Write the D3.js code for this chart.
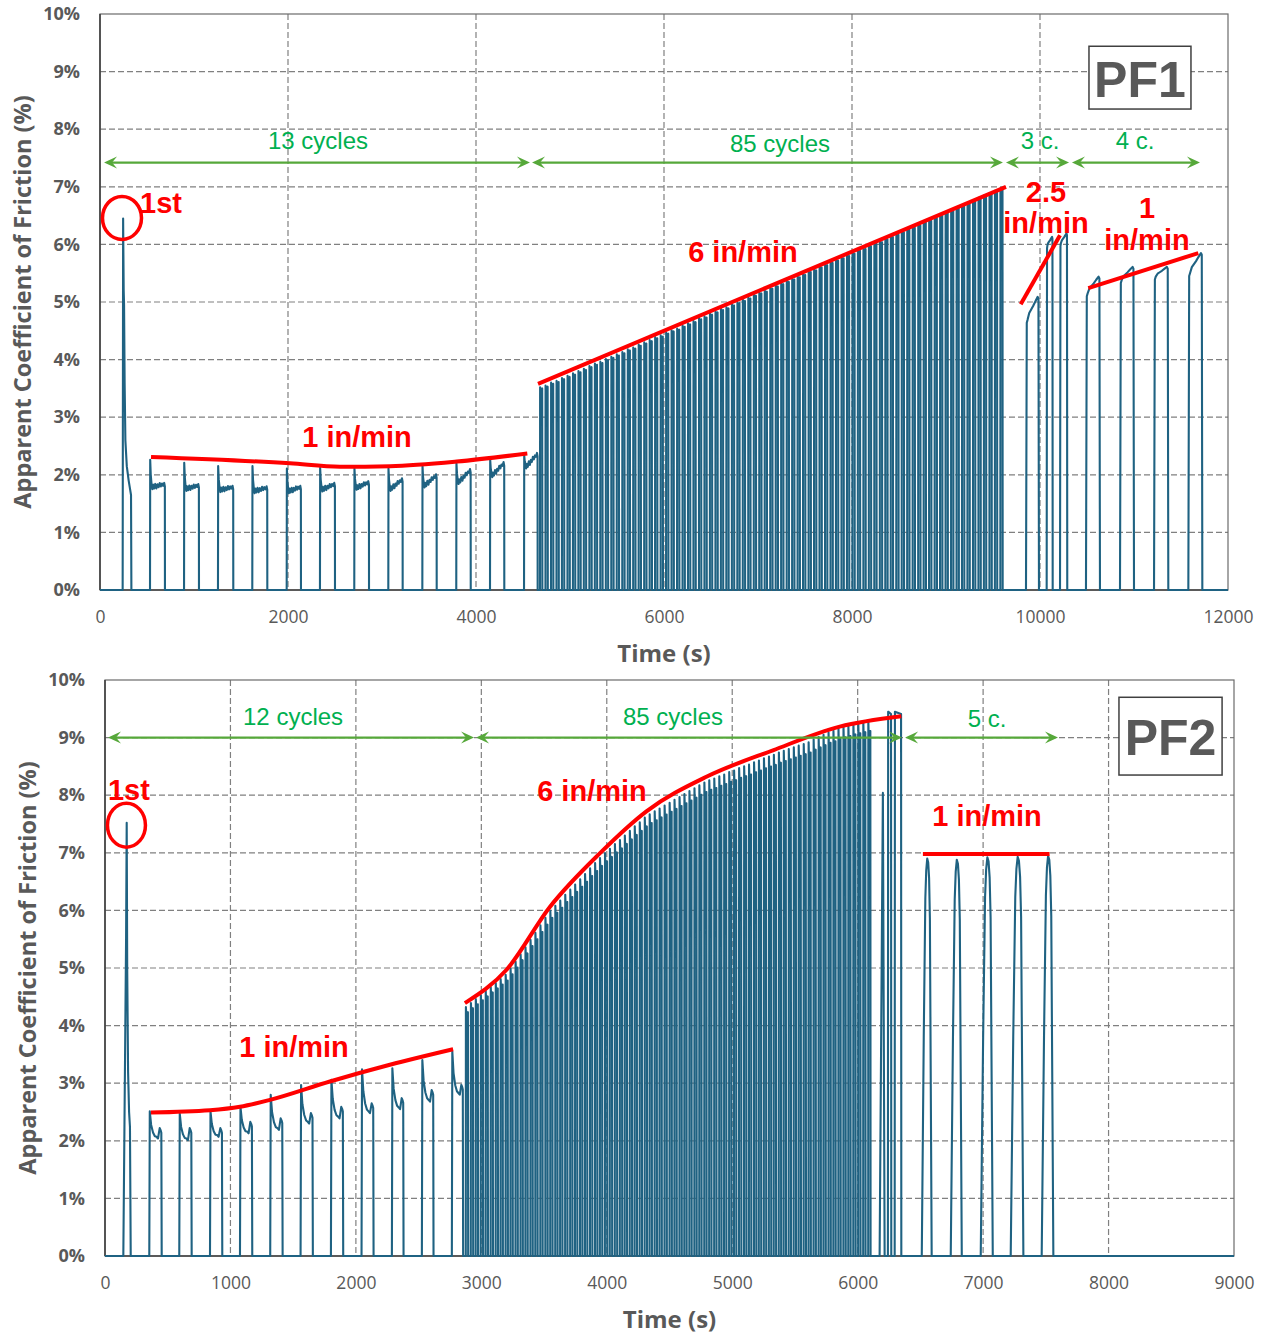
<!DOCTYPE html>
<html>
<head>
<meta charset="utf-8">
<script src="https://cdn.jsdelivr.net/npm/d3@7"></script>
<style>
  body { margin: 0; background: #fff; }
  svg { display: block; }
</style>
</head>
<body>
<svg id="chart" width="1268" height="1333"></svg>
<script>
// ---------- shared axis values ----------
const yTicks = [0, 1, 2, 3, 4, 5, 6, 7, 8, 9, 10];
const p1XTicks = [0, 2000, 4000, 6000, 8000, 10000, 12000];
const p2XTicks = [0, 1000, 2000, 3000, 4000, 5000, 6000, 7000, 8000, 9000];

// ---------- PF1 trace (time s, friction %) ----------
const p1FirstT = [241, 246, 252, 256, 262, 270, 285, 305, 330, 334];
const p1FirstV = [0, 6.45, 5.2, 4.95, 3.6, 2.6, 2.15, 1.9, 1.65, 0];

const p1SlowStart = [532, 894, 1255, 1620, 1986, 2340, 2705, 3067, 3429, 3790, 4149, 4511];
const p1SlowEnd   = [691, 1053, 1418, 1780, 2138, 2500, 2862, 3220, 3582, 3944, 4301, 4656];
const p1SlowPeak  = [2.26, 2.21, 2.15, 2.15, 2.11, 2.12, 2.11, 2.11, 2.15, 2.20, 2.26, 2.34];
const p1SlowPlatA = [1.79, 1.76, 1.74, 1.72, 1.72, 1.75, 1.78, 1.76, 1.82, 1.88, 2.00, 2.15];
const p1SlowPlatB = [1.80, 1.78, 1.75, 1.74, 1.75, 1.80, 1.83, 1.88, 1.95, 2.04, 2.16, 2.32];

const p1FastStart = [4681,4739,4798,4856,4914,4973,5031,5089,5147,5206,
  5264,5322,5381,5439,5497,5556,5614,5672,5730,5789,
  5847,5905,5964,6022,6080,6139,6197,6255,6313,6372,
  6430,6488,6547,6605,6663,6722,6780,6838,6896,6955,
  7013,7071,7130,7188,7246,7305,7363,7421,7479,7538,
  7596,7654,7713,7771,7829,7888,7946,8004,8062,8121,
  8179,8237,8296,8354,8412,8471,8529,8587,8645,8704,
  8762,8820,8879,8937,8995,9054,9112,9170,9228,9287,
  9345,9403,9462,9520,9578];
const p1FastPeak = [3.52,3.55,3.60,3.63,3.68,3.72,3.76,3.80,3.84,3.89,
  3.93,3.96,4.01,4.05,4.09,4.13,4.18,4.21,4.26,4.30,
  4.34,4.39,4.42,4.47,4.51,4.54,4.59,4.63,4.67,4.72,
  4.75,4.80,4.84,4.88,4.91,4.96,5.00,5.04,5.08,5.13,
  5.17,5.20,5.25,5.29,5.33,5.37,5.41,5.45,5.49,5.54,
  5.57,5.62,5.66,5.70,5.74,5.78,5.82,5.86,5.91,5.94,
  5.99,6.03,6.06,6.11,6.15,6.19,6.23,6.28,6.31,6.35,
  6.40,6.43,6.48,6.52,6.56,6.60,6.65,6.68,6.72,6.77,
  6.81,6.85,6.89,6.93,6.97];

const p1MidStart = [9851, 10071, 10213];
const p1MidEnd   = [9989, 10135, 10290];
const p1MidLo    = [4.69, 5.98, 6.02];
const p1MidHi    = [5.09, 6.13, 6.19];

const p1EndStart = [10489, 10851, 11213, 11578];
const p1EndEnd   = [10638, 11000, 11365, 11727];
const p1EndLo    = [5.15, 5.38, 5.44, 5.50];
const p1EndHi    = [5.44, 5.61, 5.61, 5.85];

// ---------- PF1 annotations ----------
const p1RedSlowT = [543, 2021, 2553, 3085, 3795, 4546];
const p1RedSlowV = [2.31, 2.20, 2.14, 2.15, 2.23, 2.37];
const p1RedFastT = [4660, 9638];
const p1RedFastV = [3.58, 7.0];
const p1RedMidT  = [9795, 10213];
const p1RedMidV  = [4.96, 6.16];
const p1RedEndT  = [10514, 11684];
const p1RedEndV  = [5.24, 5.85];
const p1ArrowFrom = [43, 4596, 9638, 10340];
const p1ArrowTo   = [4574, 9606, 10309, 11702];
const p1ArrowLevel = 7.42;
const p1CycleLabels = ["13 cycles", "85 cycles", "3 c.", "4 c."];
const p1CycleLabelT = [2319, 7234, 10000, 11011];
const p1CycleLabelV = [7.81, 7.76, 7.81, 7.81];
const p1RateLabels = ["1st", "1 in/min", "6 in/min", "2.5", "in/min", "1", "in/min"];
const p1RateLabelT = [649, 2734, 6840, 10064, 10064, 11138, 11138];
const p1RateLabelV = [6.72, 2.66, 5.87, 6.91, 6.37, 6.63, 6.08];
const p1CircleT = 234, p1CircleV = 6.46;

// ---------- PF2 trace ----------
const p2FirstT = [146, 168, 173, 177, 184, 192, 199, 205];
const p2FirstV = [0, 5.5, 7.52, 5.0, 3.2, 2.5, 2.24, 0];

const p2SlowStart = [353, 592, 837, 1076, 1317, 1559, 1801, 2045, 2287, 2526, 2765];
const p2SlowEnd   = [452, 691, 935, 1174, 1416, 1657, 1899, 2141, 2380, 2619, 2855];
const p2SlowPeak  = [2.51, 2.47, 2.51, 2.59, 2.80, 2.97, 3.06, 3.24, 3.26, 3.40, 3.55];
const p2SlowDip   = [2.04, 2.01, 2.07, 2.13, 2.19, 2.30, 2.39, 2.48, 2.55, 2.68, 2.80];
const p2SlowBump  = [2.22, 2.22, 2.22, 2.33, 2.39, 2.48, 2.59, 2.65, 2.74, 2.88, 2.97];

const p2FastStart = [2876,2916,2955,2995,3034,3074,3114,3153,3193,3232,
  3272,3312,3351,3391,3430,3470,3510,3549,3589,3628,
  3668,3708,3747,3787,3826,3866,3906,3945,3985,4024,
  4064,4104,4143,4183,4222,4262,4302,4341,4381,4420,
  4460,4500,4539,4579,4618,4658,4698,4737,4777,4816,
  4856,4896,4935,4975,5014,5054,5094,5133,5173,5212,
  5252,5292,5331,5371,5410,5450,5490,5529,5569,5608,
  5648,5688,5727,5767,5806,5846,5886,5925,5965,6004,
  6044,6084];
const p2FastPeak = [4.32,4.39,4.46,4.53,4.60,4.67,4.74,4.81,4.88,4.99,
  5.11,5.24,5.36,5.49,5.61,5.74,5.87,5.99,6.08,6.17,
  6.27,6.36,6.45,6.54,6.63,6.73,6.82,6.91,6.99,7.07,
  7.15,7.22,7.30,7.38,7.46,7.53,7.61,7.67,7.72,7.77,
  7.82,7.87,7.92,7.97,8.02,8.07,8.12,8.17,8.22,8.26,
  8.29,8.33,8.36,8.40,8.43,8.47,8.50,8.53,8.57,8.60,
  8.64,8.67,8.70,8.74,8.77,8.80,8.83,8.86,8.89,8.92,
  8.97,9.01,9.05,9.09,9.12,9.16,9.19,9.21,9.24,9.26,
  9.28,9.30];
// last three of the 85 fast cycles (irregular)
const p2TailStart = [6175, 6241, 6295];
const p2TailEnd   = [6215, 6268, 6348];
const p2TailPeak  = [8.04, 9.45, 9.45];

const p2EndStart = [6511, 6742, 6981, 7220, 7467];
const p2EndEnd   = [6590, 6830, 7077, 7321, 7560];
const p2EndPeak  = [6.90, 6.88, 6.92, 6.93, 6.95];

// ---------- PF2 annotations ----------
const p2RedSlowT = [366, 837, 1076, 1315, 1793, 2271, 2775];
const p2RedSlowV = [2.49, 2.53, 2.59, 2.71, 3.03, 3.32, 3.59];
const p2RedFastT = [2869, 3201, 3546, 3944, 4316, 4794, 5325, 5857, 6348];
const p2RedFastV = [4.39, 4.97, 6.06, 6.99, 7.72, 8.32, 8.78, 9.19, 9.37];
const p2RedEndT  = [6520, 7530];
const p2RedEndV  = [6.98, 6.98];
const p2ArrowFrom = [24, 2958, 6378];
const p2ArrowTo   = [2942, 6354, 7597];
const p2ArrowLevel = 9.0;
const p2CycleLabels = ["12 cycles", "85 cycles", "5 c."];
const p2CycleLabelT = [1499, 4528, 7031];
const p2CycleLabelV = [9.36, 9.36, 9.34];
const p2RateLabels = ["1st", "1 in/min", "6 in/min", "1 in/min"];
const p2RateLabelT = [191, 1507, 3882, 7031];
const p2RateLabelV = [8.09, 3.63, 8.07, 7.64];
const p2CircleT = 171, p2CircleV = 7.48;

// ---------- cycle shapes ----------
const TEAL = "#1f6282";
const RED = "#ff0000";
const GREEN_LINE = "#56a83a";
const GREEN_TEXT = "#00b050";
const GREY = "#595959";

// small fixed wiggle on the 1 in/min plateaus (PF1)
const wiggle = [0.04, -0.03, 0.05, -0.03, 0.04, -0.01, 0.06, 0.0, 0.05, 0.01, 0.06];

function p1SlowCycle(ts, te, pk, a, b) {
  const d = te - ts, pts = [[ts, 0], [ts + 2, pk], [ts + 0.05 * d, a + 0.45 * (pk - a)],
    [ts + 0.1 * d, a + 0.12 * (pk - a)], [ts + 0.16 * d, a - 0.04]];
  wiggle.forEach((w, i) => {
    const f = 0.2 + i * 0.075;
    pts.push([ts + f * d, a + (b - a) * (f - 0.2) / 0.75 + w]);
  });
  pts.push([te - 1, b], [te, 0]);
  return pts;
}
function p1FastCycle(t0, pk) {
  return [[t0, 0], [t0 + 1, pk], [t0 + 6, pk - 0.08], [t0 + 14, pk - 0.05], [t0 + 23, pk - 0.02], [t0 + 25, 0]];
}
function risingCycle(ts, te, lo, hi) {
  const d = te - ts, r = hi - lo;
  return [[ts, 0], [ts + 0.06 * d, lo - 0.05], [ts + 0.12 * d, lo], [ts + 0.25 * d, lo + 0.3 * r],
    [ts + 0.4 * d, lo + 0.45 * r], [ts + 0.55 * d, lo + 0.6 * r], [ts + 0.72 * d, lo + 0.8 * r],
    [ts + 0.9 * d, hi], [ts + 0.96 * d, hi - 0.03], [te, 0]];
}
function p2SlowCycle(ts, te, pk, dip, bump) {
  const d = te - ts, r = pk - dip;
  return [[ts, 0], [ts + 0.04 * d, pk], [ts + 0.15 * d, dip + 0.5 * r], [ts + 0.3 * d, dip + 0.22 * r],
    [ts + 0.45 * d, dip + 0.08 * r], [ts + 0.58 * d, dip + 0.03], [ts + 0.7 * d, dip],
    [ts + 0.84 * d, bump], [ts + 0.92 * d, bump - 0.04], [ts + 0.97 * d, bump - 0.08], [te, 0]];
}
function p2FastCycle(t0, pk) {
  return [[t0, 0], [t0 + 1, pk], [t0 + 4, pk * 0.97], [t0 + 12, pk * 0.975], [t0 + 17, pk * 0.98], [t0 + 19, 0]];
}
function tailCycle(ts, te, pk, i) {
  if (i === 0) return [[ts, 0], [ts + 0.65 * (te - ts), pk], [te, 0]];
  return [[ts, 0], [ts + 2, pk], [te - 2, pk - 0.04], [te, 0]];
}
function domeCycle(ts, te, pk) {
  const d = te - ts;
  return [[ts, 0], [ts + 0.2 * d, 0.55 * pk], [ts + 0.36 * d, 0.9 * pk], [ts + 0.45 * d, 0.97 * pk],
    [ts + 0.55 * d, pk], [ts + 0.65 * d, 0.99 * pk], [ts + 0.74 * d, 0.95 * pk], [ts + 0.82 * d, 0.85 * pk], [te, 0]];
}

// ---------- assemble the two traces ----------
let p1Trace = [[0, 0]];
p1FirstT.forEach((t, i) => p1Trace.push([t, p1FirstV[i]]));
p1SlowStart.forEach((t, i) => p1Trace.push(...p1SlowCycle(t, p1SlowEnd[i], p1SlowPeak[i], p1SlowPlatA[i], p1SlowPlatB[i])));
p1FastStart.forEach((t, i) => p1Trace.push(...p1FastCycle(t, p1FastPeak[i])));
p1MidStart.forEach((t, i) => p1Trace.push(...risingCycle(t, p1MidEnd[i], p1MidLo[i], p1MidHi[i])));
p1EndStart.forEach((t, i) => p1Trace.push(...risingCycle(t, p1EndEnd[i], p1EndLo[i], p1EndHi[i])));
p1Trace.push([12000, 0]);

let p2Trace = [[0, 0]];
p2FirstT.forEach((t, i) => p2Trace.push([t, p2FirstV[i]]));
p2SlowStart.forEach((t, i) => p2Trace.push(...p2SlowCycle(t, p2SlowEnd[i], p2SlowPeak[i], p2SlowDip[i], p2SlowBump[i])));
p2FastStart.forEach((t, i) => p2Trace.push(...p2FastCycle(t, p2FastPeak[i])));
p2TailStart.forEach((t, i) => p2Trace.push(...tailCycle(t, p2TailEnd[i], p2TailPeak[i], i)));
p2EndStart.forEach((t, i) => p2Trace.push(...domeCycle(t, p2EndEnd[i], p2EndPeak[i])));
p2Trace.push([9000, 0]);

const zip = (a, b) => a.map((t, i) => [t, b[i]]);

const panels = [
  {
    left: 100, right: 1228, top: 14, bottom: 590, xMax: 12000, xTicks: p1XTicks,
    trace: p1Trace, tag: "PF1", tagT: [10521, 11606], tagV: [9.44, 8.35],
    yTitleX: 22,
    red: [
      { pts: zip(p1RedSlowT, p1RedSlowV), curve: d3.curveMonotoneX },
      { pts: zip(p1RedFastT, p1RedFastV) },
      { pts: zip(p1RedMidT, p1RedMidV) },
      { pts: zip(p1RedEndT, p1RedEndV) }
    ],
    arrowFrom: p1ArrowFrom, arrowTo: p1ArrowTo, arrowLevel: p1ArrowLevel,
    cycleLabels: p1CycleLabels, cycleT: p1CycleLabelT, cycleV: p1CycleLabelV,
    rateLabels: p1RateLabels, rateT: p1RateLabelT, rateV: p1RateLabelV,
    circle: [p1CircleT, p1CircleV], circleR: [19.5, 21.5]
  },
  {
    left: 105, right: 1234, top: 680, bottom: 1256, xMax: 9000, xTicks: p2XTicks,
    trace: p2Trace, tag: "PF2", tagT: [8083, 8905], tagV: [9.70, 8.35],
    yTitleX: 27,
    red: [
      { pts: zip(p2RedSlowT, p2RedSlowV), curve: d3.curveMonotoneX },
      { pts: zip(p2RedFastT, p2RedFastV), curve: d3.curveMonotoneX },
      { pts: zip(p2RedEndT, p2RedEndV) }
    ],
    arrowFrom: p2ArrowFrom, arrowTo: p2ArrowTo, arrowLevel: p2ArrowLevel,
    cycleLabels: p2CycleLabels, cycleT: p2CycleLabelT, cycleV: p2CycleLabelV,
    rateLabels: p2RateLabels, rateT: p2RateLabelT, rateV: p2RateLabelV,
    circle: [p2CircleT, p2CircleV], circleR: [19, 22]
  }
];

const svg = d3.select("#chart");

function drawPanel(cfg) {
  const g = svg.append("g");
  const x = d3.scaleLinear().domain([0, cfg.xMax]).range([cfg.left, cfg.right]);
  const y = d3.scaleLinear().domain([0, 10]).range([cfg.bottom, cfg.top]);

  // dashed grid
  g.append("g").selectAll("line").data(yTicks.filter(d => d > 0 && d < 10)).join("line")
    .attr("x1", cfg.left).attr("x2", cfg.right)
    .attr("y1", d => y(d)).attr("y2", d => y(d))
    .attr("stroke", "#808080").attr("stroke-width", 1.2).attr("stroke-dasharray", "6,3");
  g.append("g").selectAll("line").data(cfg.xTicks.filter(d => d > 0 && d < cfg.xMax)).join("line")
    .attr("x1", d => x(d)).attr("x2", d => x(d))
    .attr("y1", cfg.top).attr("y2", cfg.bottom)
    .attr("stroke", "#808080").attr("stroke-width", 1.2).attr("stroke-dasharray", "6,3");

  // frame
  g.append("rect")
    .attr("x", cfg.left).attr("y", cfg.top)
    .attr("width", cfg.right - cfg.left).attr("height", cfg.bottom - cfg.top)
    .attr("fill", "none").attr("stroke", "#6b6b6b").attr("stroke-width", 1.2);
  g.append("line").attr("x1", cfg.left).attr("x2", cfg.left).attr("y1", cfg.top).attr("y2", cfg.bottom)
    .attr("stroke", "#404040").attr("stroke-width", 1.6);
  g.append("line").attr("x1", cfg.left).attr("x2", cfg.right).attr("y1", cfg.bottom).attr("y2", cfg.bottom)
    .attr("stroke", "#404040").attr("stroke-width", 1.6);

  // axes
  const yAxis = g.append("g").attr("transform", `translate(${cfg.left},0)`)
    .call(d3.axisLeft(y).tickValues(yTicks).tickFormat(d => d + "%").tickSize(0).tickPadding(20));
  yAxis.select(".domain").remove();
  yAxis.selectAll("text").attr("font-family", "'Open Sans', sans-serif").attr("font-weight", "bold")
    .attr("font-size", 18).attr("fill", GREY);

  const xAxis = g.append("g").attr("transform", `translate(0,${cfg.bottom})`)
    .call(d3.axisBottom(x).tickValues(cfg.xTicks).tickFormat(d3.format("d")).tickSize(0).tickPadding(21));
  xAxis.select(".domain").remove();
  xAxis.selectAll("text").attr("font-family", "'Open Sans', sans-serif")
    .attr("font-size", 17.5).attr("fill", GREY);

  g.append("text")
    .attr("x", (cfg.left + cfg.right) / 2).attr("y", cfg.bottom + 62)
    .attr("text-anchor", "middle").attr("dominant-baseline", "central")
    .attr("font-family", "'Open Sans', sans-serif").attr("font-weight", "bold")
    .attr("font-size", 24).attr("fill", GREY).text("Time (s)");
  g.append("text")
    .attr("transform", `translate(${cfg.yTitleX},${(cfg.top + cfg.bottom) / 2}) rotate(-90)`)
    .attr("text-anchor", "middle").attr("dominant-baseline", "central")
    .attr("font-family", "'Open Sans', sans-serif").attr("font-weight", "bold")
    .attr("font-size", 23.5).attr("fill", GREY).text("Apparent Coefficient of Friction (%)");

  // measured trace
  const line = d3.line().x(d => x(d[0])).y(d => y(d[1]));
  g.append("path").datum(cfg.trace).attr("d", line)
    .attr("fill", "none").attr("stroke", TEAL).attr("stroke-width", 2.1)
    .attr("stroke-linejoin", "round");

  // red trend lines
  cfg.red.forEach(r => {
    g.append("path").datum(r.pts)
      .attr("d", d3.line().x(d => x(d[0])).y(d => y(d[1])).curve(r.curve || d3.curveLinear))
      .attr("fill", "none").attr("stroke", RED).attr("stroke-width", 4).attr("stroke-linecap", "butt");
  });
  g.append("ellipse")
    .attr("cx", x(cfg.circle[0])).attr("cy", y(cfg.circle[1]))
    .attr("rx", cfg.circleR[0]).attr("ry", cfg.circleR[1])
    .attr("fill", "none").attr("stroke", RED).attr("stroke-width", 3.5);

  g.append("g").selectAll("text").data(cfg.rateLabels).join("text")
    .attr("x", (d, i) => x(cfg.rateT[i])).attr("y", (d, i) => y(cfg.rateV[i]))
    .attr("text-anchor", "middle").attr("dominant-baseline", "central")
    .attr("font-family", "'Liberation Sans', Arial, sans-serif").attr("font-weight", "bold")
    .attr("font-size", 29).attr("fill", RED).text(d => d);

  // green cycle arrows
  const ay = y(cfg.arrowLevel);
  const head = (tip, dir) => {
    const bx = tip - dir * 13;
    return `M${tip},${ay} L${bx},${ay - 6} L${tip - dir * 8},${ay} L${bx},${ay + 6} Z`;
  };
  cfg.arrowFrom.forEach((t, i) => {
    const x1 = x(t), x2 = x(cfg.arrowTo[i]);
    g.append("line").attr("x1", x1 + 4).attr("x2", x2 - 4).attr("y1", ay).attr("y2", ay)
      .attr("stroke", GREEN_LINE).attr("stroke-width", 2.2);
    g.append("path").attr("d", head(x1, -1)).attr("fill", GREEN_LINE);
    g.append("path").attr("d", head(x2, 1)).attr("fill", GREEN_LINE);
  });
  g.append("g").selectAll("text").data(cfg.cycleLabels).join("text")
    .attr("x", (d, i) => x(cfg.cycleT[i])).attr("y", (d, i) => y(cfg.cycleV[i]))
    .attr("text-anchor", "middle").attr("dominant-baseline", "central")
    .attr("font-family", "'Liberation Sans', Arial, sans-serif")
    .attr("font-size", 24).attr("fill", GREEN_TEXT).text(d => d);

  // PF tag box
  const bx = x(cfg.tagT[0]), by = y(cfg.tagV[0]);
  const bw = x(cfg.tagT[1]) - bx, bh = y(cfg.tagV[1]) - by;
  g.append("rect").attr("x", bx).attr("y", by).attr("width", bw).attr("height", bh)
    .attr("fill", "#fff").attr("stroke", "#404040").attr("stroke-width", 1.5);
  g.append("text").attr("x", bx + bw / 2).attr("y", by + bh / 2 + 2)
    .attr("text-anchor", "middle").attr("dominant-baseline", "central")
    .attr("font-family", "'Liberation Sans', Arial, sans-serif").attr("font-weight", "bold")
    .attr("font-size", 50).attr("fill", GREY).text(cfg.tag);
}

panels.forEach(drawPanel);
</script>
</body>
</html>
